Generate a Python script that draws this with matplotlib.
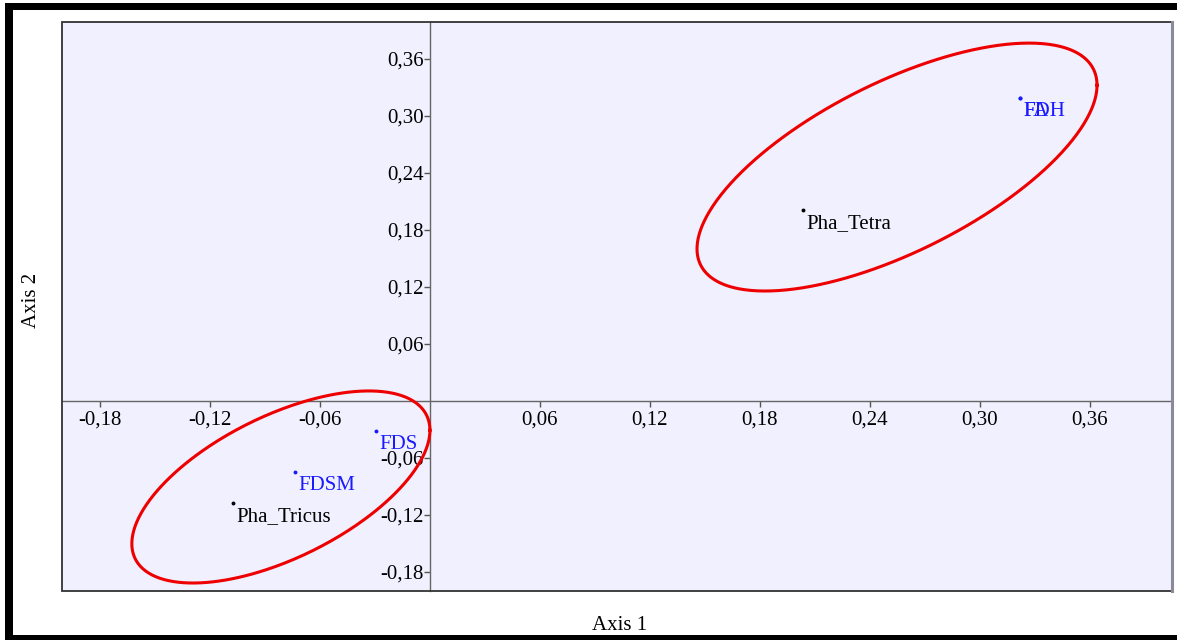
import numpy as np
import matplotlib
matplotlib.use("Agg")
import matplotlib.pyplot as plt
from matplotlib.patches import Rectangle

plt.rcParams['font.family'] = ['Liberation Serif', 'DejaVu Serif']

# ---- data ----
labels = ["FDH", "FA", "Pha_Tetra", "FDS", "FDSM", "Pha_Tricus"]
px = [0.322, 0.322, 0.2035, -0.0295, -0.0736, -0.1075]
py = [0.319, 0.319, 0.201, -0.0316, -0.0747, -0.1074]
pcolors = ["#1a1aff", "#1a1aff", "black", "#1a1aff", "#1a1aff", "black"]

xticks = [-0.18, -0.12, -0.06, 0.06, 0.12, 0.18, 0.24, 0.30, 0.36]
yticks = [-0.18, -0.12, -0.06, 0.06, 0.12, 0.18, 0.24, 0.30, 0.36]

# ellipses: center x, center y, half-range x, half-range y, correlation
ell_cx = [0.2548, -0.0813]
ell_cy = [0.2463, -0.0905]
ell_sx = [0.1091, 0.0813]
ell_sy = [0.1305, 0.1011]
ell_rho = [0.66, 0.59]

fig = plt.figure(figsize=(11.77, 6.4), dpi=100)
fig.patch.set_facecolor('white')

W, H = 1177, 640
# outer black frame pieces
fig.add_artist(Rectangle((5 / W, 0), 8 / W, 1 - 3 / H, transform=fig.transFigure,
                         facecolor='black', edgecolor='none'))
fig.add_artist(Rectangle((5 / W, 1 - 10 / H), 1, 7 / H, transform=fig.transFigure,
                         facecolor='black', edgecolor='none'))
fig.add_artist(Rectangle((5 / W, 0), 1, 5 / H, transform=fig.transFigure,
                         facecolor='black', edgecolor='none'))

ax = fig.add_axes([62 / W, 1 - 591 / H, (1172 - 62) / W, (591 - 22) / H])
ax.set_facecolor('#f0f0fe')
ax.set_xlim(-0.2007, 0.4048)
ax.set_ylim(-0.2, 0.399)

for s in ['top', 'right']:
    ax.spines[s].set_visible(False)
ax.spines['left'].set_position(('data', 0))
ax.spines['bottom'].set_position(('data', 0))
for s in ['left', 'bottom']:
    ax.spines[s].set_color('#666666')
    ax.spines[s].set_linewidth(1.0)

ax.add_patch(Rectangle((0, 0), 1, 1, transform=ax.transAxes, fill=False,
                       edgecolor='#333333', linewidth=1.3, zorder=5, clip_on=False))
ax.plot([1, 1], [0, 1], transform=ax.transAxes, color='#8a8a9a', linewidth=2.2,
        zorder=6, clip_on=False)

ax.set_xticks(xticks)
ax.set_xticklabels([f"{v:.2f}".replace('.', ',') for v in xticks])
ax.set_yticks(yticks)
ax.set_yticklabels([f"{v:.2f}".replace('.', ',') for v in yticks])
ax.tick_params(axis='both', direction='out', length=4, width=1, color='#555555',
               labelsize=15, labelcolor='black', pad=0.5)
ax.tick_params(axis='x', pad=3)

# ellipses
t = np.linspace(0, 2 * np.pi, 400)
for cx, cy, sx, sy, r in zip(ell_cx, ell_cy, ell_sx, ell_sy, ell_rho):
    ex = cx + sx * np.cos(t)
    ey = cy + sy * (r * np.cos(t) + np.sqrt(1 - r * r) * np.sin(t))
    ax.plot(ex, ey, color='#ee0000', linewidth=2.2, zorder=3, clip_on=False)

# points and labels
for x, y, lab, c in zip(px, py, labels, pcolors):
    ax.plot(x, y, 'o', markersize=1.8, color=c, zorder=4)
    ax.annotate(lab, (x, y), xytext=(2.5, -10), textcoords='offset points',
                ha='left', va='center', fontsize=15, color=c, zorder=4)

fig.text(620 / W, 1 - 626 / H, "Axis 1", ha='center', va='center', fontsize=15)
fig.text(32 / W, 1 - 300 / H, "Axis 2", ha='center', va='center', fontsize=15,
         rotation=90)

fig.savefig("out.png", dpi=100)
